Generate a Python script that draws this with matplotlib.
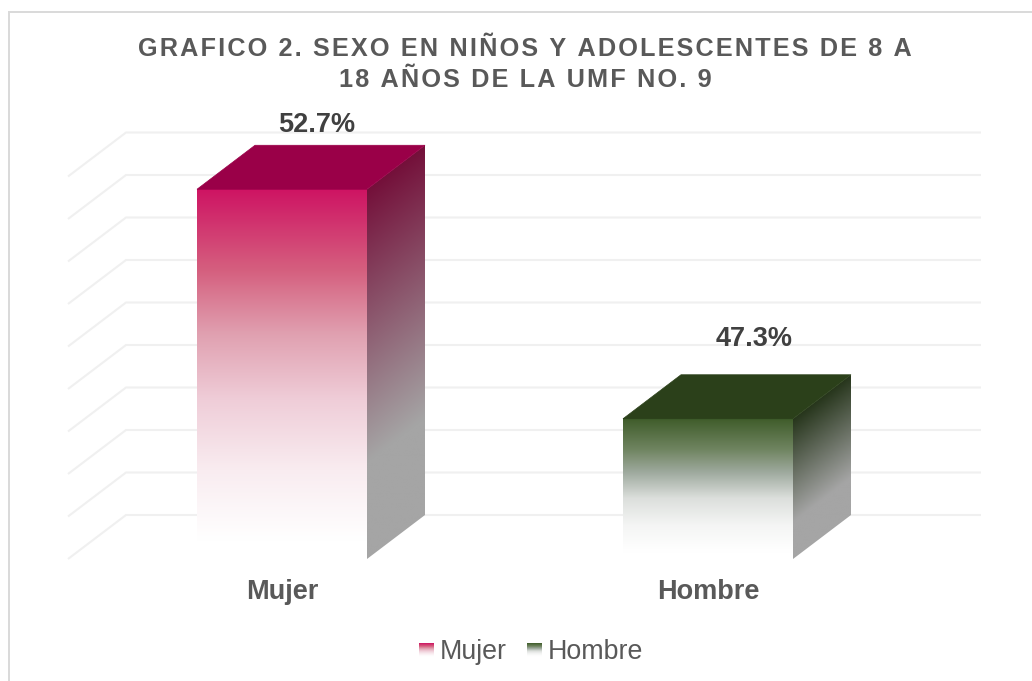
import numpy as np
import matplotlib
matplotlib.use("Agg")
import matplotlib.pyplot as plt
from matplotlib.colors import LinearSegmentedColormap
from matplotlib.patches import Polygon, Rectangle

# --- data ---
CATEGORIES = ["Mujer", "Hombre"]
VALUES = [52.7, 47.3]
VALUE_LABELS = ["52.7%", "47.3%"]
GRID_VALUES = [44, 45, 46, 47, 48, 49, 50, 51, 52, 53]
TITLE_LINES = ["GRAFICO 2. SEXO EN NIÑOS Y ADOLESCENTES DE 8 A", "18 AÑOS DE LA UMF NO. 9"]

# --- colours per series ---
TOP_COLORS = ["#9A0048", "#2B401A"]
SIDE_COLORS = ["#74103A", "#26351B"]
FRONT_STOPS = [0, 0.22, 0.39, 0.57, 0.76, 0.95, 1]
FRONT_COLORS = [
    ["#CE1463", "#D5607F", "#E0A0B0", "#EFCDD8", "#F9ECF0", "#FFFFFF", "#FFFFFF"],
    ["#3F5C2A", "#6F8460", "#A0ABA0", "#DCDFDC", "#F4F5F4", "#FFFFFF", "#FFFFFF"],
]

# --- layout, everything in pixels of the 1032x681 picture ---
W, H = 1032, 681
FLOOR_Y = 559
PX_PER_UNIT = 42.5
CAT_X0 = 282
CAT_STEP = 426
BAR_W = 170 / CAT_STEP
DX = 58 / CAT_STEP
DY = 44 / PX_PER_UNIT
AXIS_MIN = 44
LABEL_OFFSETS = [(6, 20), (17, 36)]  # value labels were moved by hand in the original

plt.rcParams["font.family"] = ["Liberation Sans", "DejaVu Sans"]

fig = plt.figure(figsize=(W / 100, H / 100), dpi=100)
ax = fig.add_axes([0, 0, 1, 1])
ax.axis("off")

# chart frame, right and bottom edges are cut off in the original
frame = Rectangle((8.5 / W, -0.02), 1.05, 1.02 - 11.5 / H, transform=ax.transAxes,
                  fill=False, ec="#D9D9D9", lw=1.4, clip_on=True, zorder=1)
ax.add_patch(frame)

# gridlines: side wall then back wall
x_front = (68 - CAT_X0) / CAT_STEP
x_back = x_front + DX
x_right = (981 - CAT_X0) / CAT_STEP
for g in GRID_VALUES:
    ax.plot([x_front, x_back, x_right], [g, g + DY, g + DY], color="#F0F0F0", lw=1.5, zorder=1,
            solid_joinstyle="miter", solid_capstyle="butt")

# --- bars ---
for i, (cat, val) in enumerate(zip(CATEGORIES, VALUES)):
    left = i - BAR_W / 2
    right = i + BAR_W / 2

    # top face
    top = Polygon([(left, val), (right, val), (right + DX, val + DY), (left + DX, val + DY)],
                  closed=True, fc=TOP_COLORS[i], ec=TOP_COLORS[i], lw=0.5, zorder=4)
    ax.add_patch(top)

    # side face, gradient runs down along the skewed face
    side = Polygon([(right, AXIS_MIN), (right + DX, AXIS_MIN + DY), (right + DX, val + DY), (right, val)],
                   closed=True, fc="none", ec="none")
    ax.add_patch(side)
    side_cmap = LinearSegmentedColormap.from_list("side", [(0, SIDE_COLORS[i]), (0.74, "#A5A5A5"), (1, "#A5A5A5")])
    u = np.linspace(0, 1, 128)
    y = np.linspace(val + DY, AXIS_MIN, 512)
    t = ((val + DY * u)[None, :] - y[:, None]) / (val - AXIS_MIN)
    im = ax.imshow(t, cmap=side_cmap, vmin=0, vmax=1, extent=[right, right + DX, AXIS_MIN, val + DY],
                   aspect="auto", interpolation="bilinear", zorder=3)
    im.set_clip_path(side)

    # front face, fades to white above the floor
    front_cmap = LinearSegmentedColormap.from_list("front", list(zip(FRONT_STOPS, FRONT_COLORS[i])))
    ax.imshow(np.linspace(0, 1, 256)[:, None], cmap=front_cmap, vmin=0, vmax=1,
              extent=[left, right, AXIS_MIN, val], aspect="auto", interpolation="bilinear", zorder=3)

    # value label over the bar
    ax.annotate(VALUE_LABELS[i], (i + DX / 2, val + DY), xytext=(LABEL_OFFSETS[i][0], LABEL_OFFSETS[i][1]),
                textcoords="offset pixels", ha="center", va="center", fontsize=19.5, fontweight="bold",
                color="#404040", zorder=6)

    # category label
    ax.annotate(cat, (i, AXIS_MIN), xytext=(0, -33), textcoords="offset pixels", ha="center", va="center",
                fontsize=19.5, fontweight="bold", color="#595959", zorder=6)

# imshow resets limits, so set them last
ax.set_xlim(-CAT_X0 / CAT_STEP, (W - CAT_X0) / CAT_STEP)
ax.set_ylim(AXIS_MIN - (H - FLOOR_Y) / PX_PER_UNIT, AXIS_MIN + FLOOR_Y / PX_PER_UNIT)

# title, hair spaces stand in for the letter spacing of the original
title_x = [524.5, 525.5]
title_y = [56.5, 87]
for line, tx, ty in zip(TITLE_LINES, title_x, title_y):
    fig.text(tx / W, 1 - ty / H, "\u200a".join(line), ha="center", va="baseline", fontsize=18.2,
             fontweight="bold", color="#595959")

# --- legend ---
swatch_x = [419, 527]
text_x = [440, 548]
for i, cat in enumerate(CATEGORIES):
    lax = fig.add_axes([swatch_x[i] / W, 1 - 657 / H, 15 / W, 14 / H])
    cmap = LinearSegmentedColormap.from_list("leg", list(zip(FRONT_STOPS, FRONT_COLORS[i])))
    lax.imshow(np.linspace(0, 1, 64)[:, None], cmap=cmap, aspect="auto", vmin=0, vmax=1)
    lax.axis("off")
    fig.text(text_x[i] / W, 1 - 652 / H, cat, ha="left", va="center", fontsize=19.3, color="#595959")

fig.savefig("out.png", dpi=100)
